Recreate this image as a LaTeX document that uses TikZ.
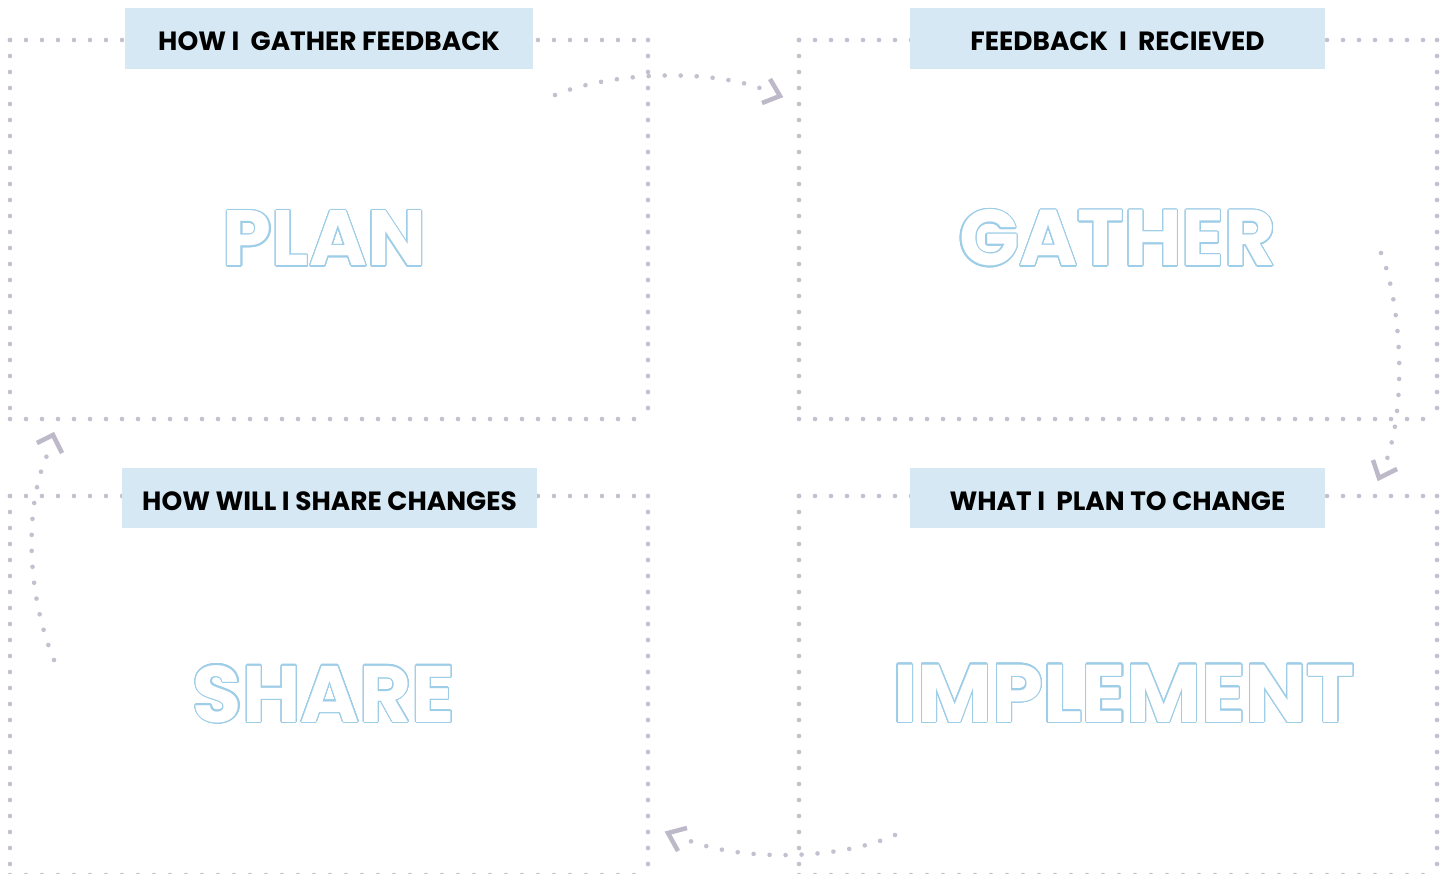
\documentclass[tikz,border=0pt]{standalone}
\usepackage{fontspec}
\setmainfont{Poppins}
\usepackage{contour}
\contournumber{40}
\contourlength{1.1pt}
\definecolor{dotc}{RGB}{196,192,207}
\definecolor{chev}{RGB}{190,185,201}
\definecolor{titlefill}{RGB}{213,232,243}
\definecolor{wordblue}{RGB}{158,205,232}
\tikzset{
  dotline/.style={draw=dotc, line width=4.6pt, line cap=round, dash pattern=on 0pt off 16pt},
  chevron/.style={draw=chev, line width=4.5pt, line cap=butt, line join=miter},
  titlebox/.style={fill=titlefill, inner sep=0pt, minimum height=61pt, text height=25pt, text depth=0pt, font=\bfseries\fontsize{26.4}{26.4}\selectfont, text=black},
  bigword/.style={inner sep=0pt, anchor=base, text=white, font=\bfseries\fontsize{84}{84}\selectfont}
}
\begin{document}
\begin{tikzpicture}[x=1pt,y=-1pt]
\useasboundingbox (0,0) rectangle (1453,874);
\fill[white] (0,0) rectangle (1453,874);
% box corners
\coordinate (a1) at (10,40);  \coordinate (a2) at (648,40);
\coordinate (a3) at (648,419); \coordinate (a4) at (10,419);
\coordinate (b1) at (799,40); \coordinate (b2) at (1437,40);
\coordinate (b3) at (1437,419); \coordinate (b4) at (799,419);
\coordinate (c1) at (10,496); \coordinate (c2) at (648,496);
\coordinate (c3) at (648,875); \coordinate (c4) at (10,875);
\coordinate (d1) at (799,496); \coordinate (d2) at (1437,496);
\coordinate (d3) at (1437,875); \coordinate (d4) at (799,875);
% dotted frames
\path[dotline] (a1) -- (a2); \path[dotline] (a1) -- (a4);
\path[dotline] (a2) -- (a3); \path[dotline] (a4) -- (a3);
\path[dotline] (b1) -- (b2); \path[dotline] (b1) -- (b4);
\path[dotline] (b2) -- (b3); \path[dotline] (b4) -- (b3);
\path[dotline] (c1) -- (c2); \path[dotline] (c1) -- (c4);
\path[dotline] (c2) -- (c3); \path[dotline] (c4) -- (c3);
\path[dotline] (d1) -- (d2); \path[dotline] (d1) -- (d4);
\path[dotline] (d2) -- (d3); \path[dotline] (d4) -- (d3);
% title boxes
\node[titlebox, minimum width=408pt] (t1) at (329,38.5) {HOW I\ \ GATHER FEEDBACK};
\node[titlebox, minimum width=415pt] (t2) at (1117.5,38.5) {FEEDBACK\ \ I\ \ RECIEVED};
\node[titlebox, minimum width=415pt, minimum height=60pt] (t3) at (329.5,498) {HOW WILL I SHARE CHANGES};
\node[titlebox, minimum width=415pt, minimum height=60pt] (t4) at (1117.5,498) {WHAT I\ \ PLAN TO CHANGE};
% big outlined words
\node[bigword] (w1) at (324.5,266) {\resizebox{203pt}{!}{\contour{wordblue}{PLAN}}};
\node[bigword] (w2) at (1117.5,266) {\resizebox{317pt}{!}{\contour{wordblue}{GATHER}}};
\node[bigword] (w3) at (324,722) {\resizebox{262pt}{!}{\contour{wordblue}{SHARE}}};
\node[bigword] (w4) at (1124,722) {\resizebox{462pt}{!}{\contour{wordblue}{IMPLEMENT}}};
% curved arrows
\coordinate (s1) at (555,95);  \coordinate (e1) at (765,90);
\coordinate (s2) at (1381,253); \coordinate (e2) at (1386,462);
\coordinate (s3) at (895,835); \coordinate (e3) at (685,839);
\coordinate (s4) at (54,660);  \coordinate (e4) at (49,451);
\path[dotline] (s1) .. controls (610,72) and (710,68) .. (e1);
\path[dotline] (s2) .. controls (1400,300) and (1408,400) .. (e2);
\path[dotline] (s3) .. controls (840,860) and (740,862) .. (e3);
\path[dotline] (s4) .. controls (25,590) and (25,500) .. (e4);
% chevrons
\draw[chevron] (770,79) -- (780,96) -- (762,103);
\draw[chevron] (1373,460) -- (1379,478) -- (1397,469);
\draw[chevron] (687,828) -- (668,833) -- (678,851);
\draw[chevron] (37,443) -- (53,435) -- (62,453);
\end{tikzpicture}
\end{document}
